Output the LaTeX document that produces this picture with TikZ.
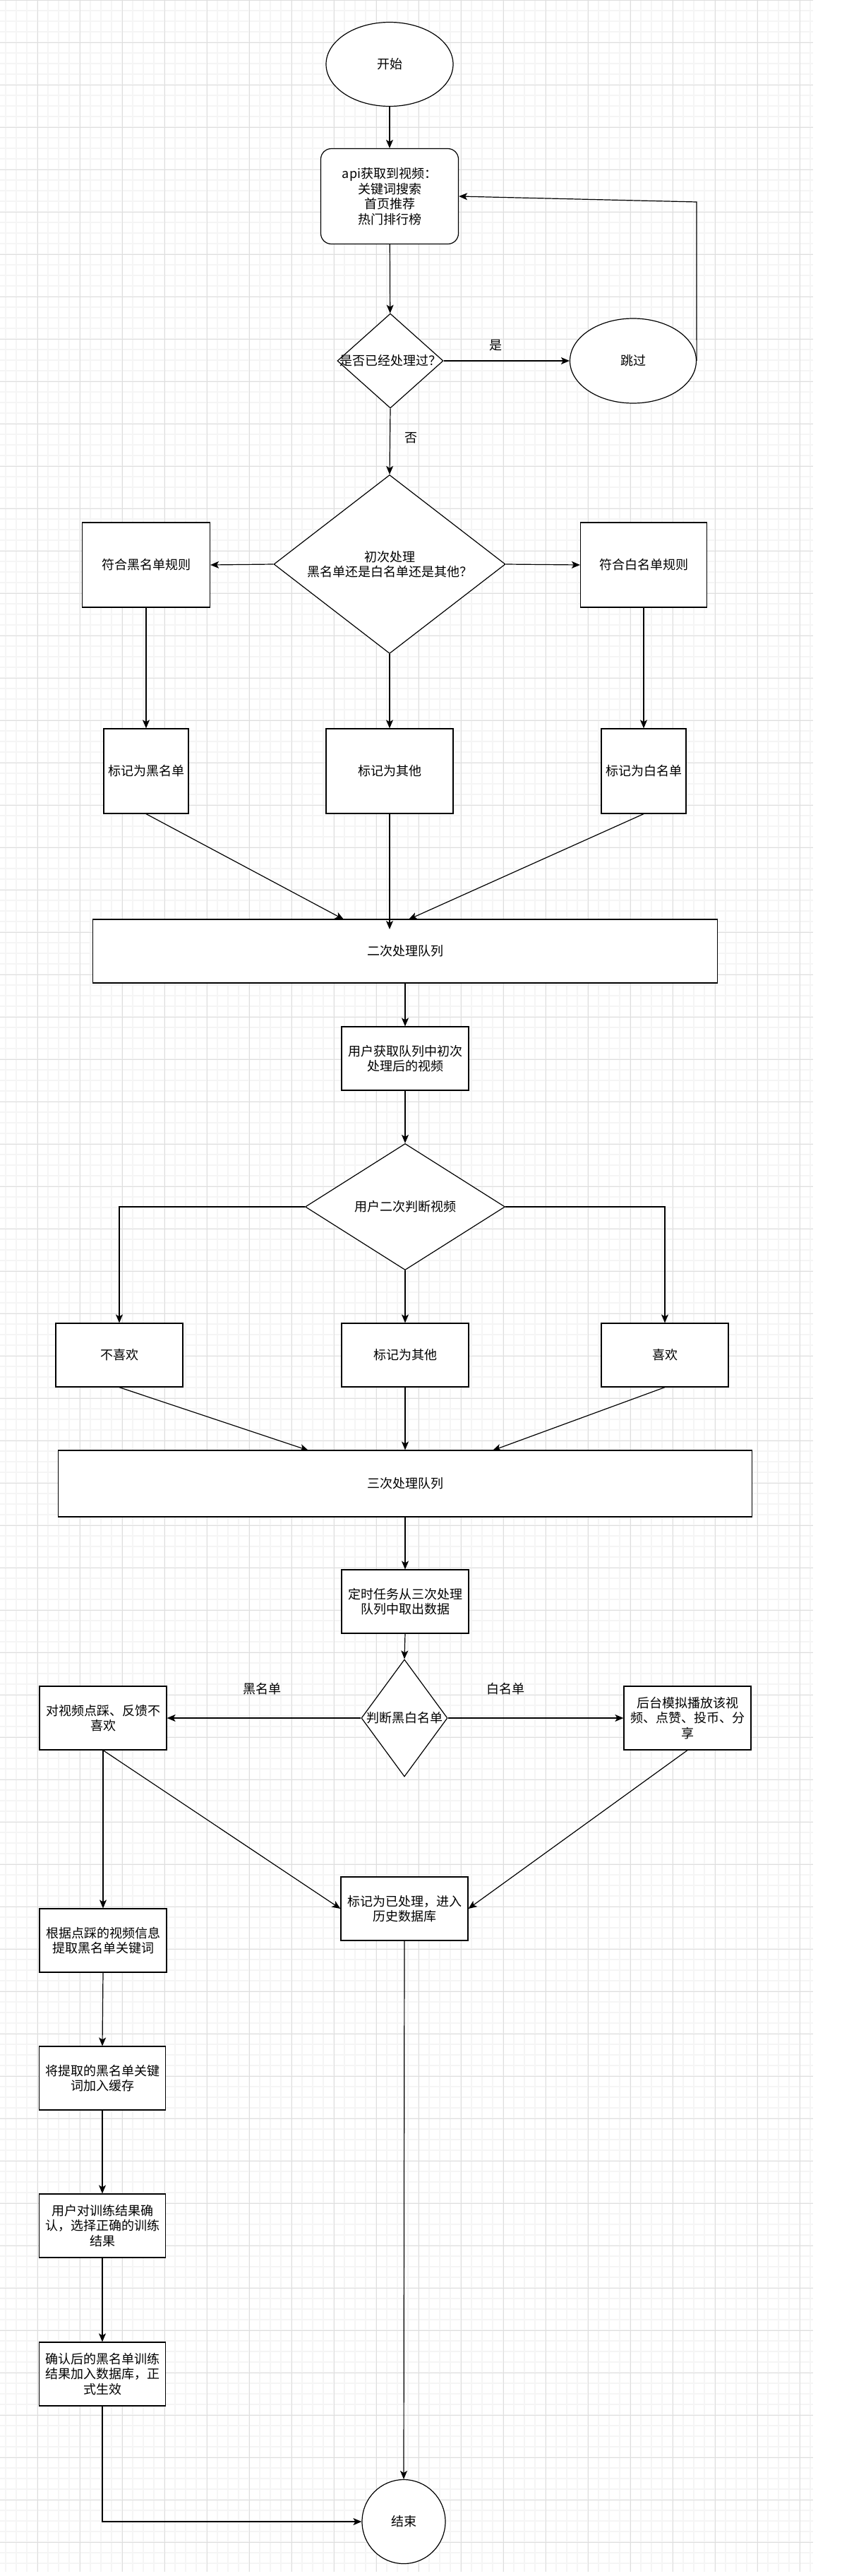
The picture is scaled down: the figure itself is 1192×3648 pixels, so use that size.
\documentclass[tikz,border=0pt]{standalone}
\usepackage{fontspec}
\newfontfamily\cjk{Noto Sans CJK SC}
\usetikzlibrary{shapes.geometric,arrows.meta}
\begin{document}
\begin{tikzpicture}[x=1pt,y=-1pt,
  minorg/.style={draw=black!4, line width=1.4pt},
  majorg/.style={draw=black!13, line width=0.8pt},
  base/.style={draw=black, line width=1.2pt, fill=white, inner sep=0pt, align=center,
    font=\cjk\fontsize{18}{21.5}\selectfont, text=black},
  box/.style 2 args={base, rectangle, minimum width=#1, minimum height=#2},
  oval/.style 2 args={base, ellipse, minimum width=#1, minimum height=#2},
  dia/.style 2 args={base, diamond, minimum width=#1, minimum height=#2},
  lbl/.style={font=\cjk\fontsize{18}{21.5}\selectfont, align=center, text=black, inner sep=0pt},
  conn/.style={draw=black, line width=1.2pt, -{Stealth[length=12pt,width=10pt,inset=3pt]}},
  line/.style={draw=black, line width=1.2pt}
]
\useasboundingbox (0,0) rectangle (1192,3648);
\fill[white] (0,0) rectangle (1192,3648);
% grid
\foreach \x in {8,23,...,1150} \draw[minorg] (\x,0) -- (\x,3642);
\foreach \y in {0,15,...,3642} \draw[minorg] (0,\y) -- (1152,\y);
\foreach \x in {53,113,...,1150} \draw[majorg] (\x,0) -- (\x,3642);
\foreach \y in {0,60,...,3642} \draw[majorg] (0,\y) -- (1152,\y);

% nodes
\node[oval={180}{119}] (start) at (552,91) {开始};
\node[box={195}{135}, rounded corners=15pt] (api) at (552,278) {api获取到视频：\\关键词搜索\\首页推荐\\热门排行榜};
\node[dia={150}{134}, label={[lbl]center:是否已经处理过？}] (d1) at (553,511) {};
\node[oval={179}{120}] (skip) at (897,511) {跳过};
\node[lbl] (yes) at (702,489) {是};
\node[lbl] (no) at (582,620) {否};

\node[dia={328}{253}, label={[lbl]center:初次处理\\黑名单还是白名单还是其他？}] (d2) at (552,799) {};
\node[box={181}{120}] (blr) at (207,800) {符合黑名单规则};
\node[box={179}{120}] (wlr) at (912,800) {符合白名单规则};
\node[box={120}{120}] (markB) at (207,1092) {标记为黑名单};
\node[box={180}{120}] (markO) at (552,1092) {标记为其他};
\node[box={120}{120}] (markW) at (912,1092) {标记为白名单};

\node[box={885}{90}] (q2) at (574,1347) {二次处理队列};
\node[box={180}{90}] (user1) at (574,1499) {用户获取队列中初次\\处理后的视频};
\node[dia={283}{179}, label={[lbl]center:用户二次判断视频}] (d3) at (574,1709) {};
\node[box={180}{90}] (dislike) at (169,1919) {不喜欢};
\node[box={180}{90}] (other2) at (574,1919) {标记为其他};
\node[box={180}{90}] (like) at (942,1919) {喜欢};

\node[box={983}{94}] (q3) at (574,2101) {三次处理队列};
\node[box={180}{90}] (timer) at (574,2268) {定时任务从三次处理\\队列中取出数据};
\node[dia={122}{166}, label={[lbl]center:判断黑白名单}] (d4) at (573,2433) {};
\node[box={180}{90}] (dis2) at (146,2433) {对视频点踩、反馈不\\喜欢};
\node[box={180}{90}] (bg) at (974,2433) {后台模拟播放该视\\频、点赞、投币、分\\享};
\node[lbl] (bll) at (371,2392) {黑名单};
\node[lbl] (wll) at (716,2392) {白名单};

\node[box={180}{90}] (hist) at (573,2703) {标记为已处理，进入\\历史数据库};
\node[box={180}{90}] (kw) at (146,2748) {根据点踩的视频信息\\提取黑名单关键词};
\node[box={179}{90}] (cache) at (145,2943) {将提取的黑名单关键\\词加入缓存};
\node[box={179}{90}] (confirm) at (145,3152) {用户对训练结果确\\认，选择正确的训练\\结果};
\node[box={179}{90}] (final) at (145,3362) {确认后的黑名单训练\\结果加入数据库，正\\式生效};
\node[oval={118}{119}] (end) at (572,3571) {结束};

% free-end coordinates
\coordinate (loopc) at (987,286);
\coordinate (q2a) at (487,1302);
\coordinate (q2b) at (552,1316);
\coordinate (q2c) at (579,1302);
\coordinate (q3a) at (437,2054);
\coordinate (q3c) at (698,2054);

% connectors
\draw[conn] (start) -- (api);
\draw[conn] (api) -- (d1);
\draw[conn] (d1.east) -- (skip.west);
\draw[conn] (skip.east) -- (loopc) -- (api.east);
\draw[conn] (d1.south) -- (d2.north);
\draw[conn] (d2.west) -- (blr.east);
\draw[conn] (d2.east) -- (wlr.west);
\draw[conn] (blr.south) -- (markB.north);
\draw[conn] (d2.south) -- (markO.north);
\draw[conn] (wlr.south) -- (markW.north);
\draw[conn] (markB.south) -- (q2a);
\draw[conn] (markO.south) -- (q2b);
\draw[conn] (markW.south) -- (q2c);
\draw[conn] (q2.south) -- (user1.north);
\draw[conn] (user1.south) -- (d3.north);
\draw[conn] (d3.west) -| (dislike.north);
\draw[conn] (d3.south) -- (other2.north);
\draw[conn] (d3.east) -| (like.north);
\draw[conn] (dislike.south) -- (q3a);
\draw[conn] (other2.south) -- (q3.north);
\draw[conn] (like.south) -- (q3c);
\draw[conn] (q3.south) -- (timer.north);
\draw[conn] (timer.south) -- (d4.north);
\draw[conn] (d4.west) -- (dis2.east);
\draw[conn] (d4.east) -- (bg.west);
\draw[conn] (dis2.south) -- (kw.north);
\draw[conn] (dis2.south) -- (hist.west);
\draw[conn] (bg.south) -- (hist.east);
\draw[conn] (kw.south) -- (cache.north);
\draw[conn] (cache.south) -- (confirm.north);
\draw[conn] (confirm.south) -- (final.north);
\draw[conn] (hist.south) -- (end.north);
\draw[conn] (final.south) |- (end.west);
\end{tikzpicture}
\end{document}
